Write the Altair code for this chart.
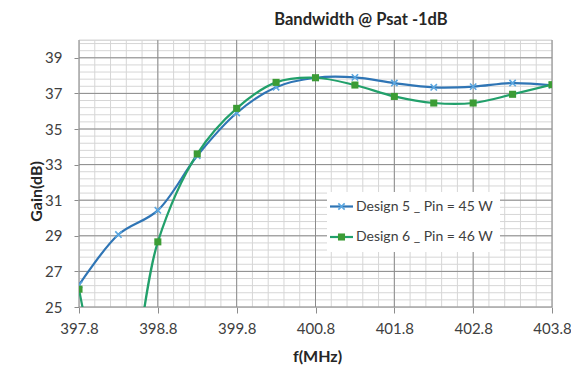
import altair as alt
import pandas as pd
import numpy as np

freq = [397.8, 398.3, 398.8, 399.3, 399.8, 400.3, 400.8, 401.3, 401.8, 402.3, 402.8, 403.3, 403.8]
gain_d5 = [26.24, 29.07, 30.43, 33.5, 35.9, 37.35, 37.88, 37.9, 37.58, 37.34, 37.38, 37.58, 37.45]
gain_d6 = [26.0, 18.0, 28.66, 33.6, 36.16, 37.62, 37.88, 37.47, 36.83, 36.46, 36.46, 36.95, 37.49]
x_ticks = [397.8, 398.8, 399.8, 400.8, 401.8, 402.8, 403.8]
y_ticks = [25, 27, 29, 31, 33, 35, 37, 39]
names = ["Design 5 _ Pin = 45 W", "Design 6 _ Pin = 46 W"]
chart_title = "Bandwidth @ Psat -1dB"

FONT = "Lato"
W, H = 473, 267
XD = [397.8, 403.8]
YD = [25, 40]

d5 = pd.DataFrame({"f": freq, "g": gain_d5})
d6 = pd.DataFrame({"f": freq, "g": gain_d6})

minor_x = pd.DataFrame({"v": np.round(np.arange(397.8, 403.81, 0.2), 2)})
minor_y = pd.DataFrame({"v": np.round(np.arange(25, 40.01, 0.4), 2).tolist() + [40]})
major_x = pd.DataFrame({"v": x_ticks})
major_y = pd.DataFrame({"v": y_ticks})

xs = alt.Scale(domain=XD, nice=False, zero=False)
ys = alt.Scale(domain=YD, nice=False, zero=False)

xaxis = alt.Axis(values=x_ticks, format=".1f", title="f(MHz)",
                 titleX=238, titleY=49, titleAlign="center", titleBaseline="middle",
                 tickSize=6, labelPadding=8)
yaxis = alt.Axis(values=y_ticks, format="d", title="Gain(dB)",
                 titleX=-43, titleY=151, titleAlign="center", titleBaseline="middle",
                 titleAngle=270, tickSize=5, labelPadding=12)

def X(field):
    return alt.X(field, scale=xs, axis=xaxis)

def Y(field):
    return alt.Y(field, scale=ys, axis=yaxis)

gx_major = alt.Chart(major_x).mark_rule(color="#8c8c8c", strokeWidth=1).encode(x=X("v:Q"))
gy_major = alt.Chart(major_y).mark_rule(color="#8c8c8c", strokeWidth=1).encode(y=Y("v:Q"))
gx_minor = alt.Chart(minor_x).mark_rule(color="#d6d6d6", strokeWidth=1).encode(x=X("v:Q"))
gy_minor = alt.Chart(minor_y).mark_rule(color="#d6d6d6", strokeWidth=1).encode(y=Y("v:Q"))

BLUE_LINE = "#2f75b5"
BLUE_MK = "#5ba7e0"
GREEN_LINE = "#22a06b"
GREEN_MK = "#3c9c35"
XPATH = "M-1,-1L1,1M1,-1L-1,1"

def line(df, color):
    return alt.Chart(df).mark_line(interpolate="catmull-rom", clip=True, color=color,
                                   strokeWidth=2.2).encode(x=X("f:Q"), y=Y("g:Q"))

l5 = line(d5, BLUE_LINE)
l6 = line(d6, GREEN_LINE)
p5 = alt.Chart(d5).mark_point(shape=XPATH, filled=False, stroke=BLUE_MK, strokeWidth=1.6,
                              size=40, clip=True, opacity=1).encode(x=X("f:Q"), y=Y("g:Q"))
p6 = alt.Chart(d6).mark_point(shape="square", filled=True, color=GREEN_MK, size=50,
                              clip=True, opacity=1).encode(x=X("f:Q"), y=Y("g:Q"))

# title as text
title_mark = alt.Chart(pd.DataFrame({"t": [chart_title]})).mark_text(
    align="center", baseline="middle", font=FONT, fontSize=16.5, fontWeight="bold",
    color="#262626").encode(x=alt.value(282), y=alt.value(-20.5), text="t:N")

# legend box
LX0, LX1, LY0, LY1 = 248, 421, 152, 212
leg_bg = alt.Chart(pd.DataFrame({"a": [0]})).mark_rect(color="white").encode(
    x=alt.value(LX0), x2=alt.value(LX1), y=alt.value(LY0), y2=alt.value(LY1))
rows = [(names[0], 166.5, BLUE_LINE, "x"), (names[1], 197, GREEN_LINE, "sq")]
leg_layers = [leg_bg]
for name, yy, col, mk in rows:
    leg_layers.append(alt.Chart(pd.DataFrame({"a": [0]})).mark_rule(color=col, strokeWidth=2.2).encode(
        x=alt.value(251), x2=alt.value(274), y=alt.value(yy)))
    if mk == "x":
        leg_layers.append(alt.Chart(pd.DataFrame({"a": [0]})).mark_point(
            shape=XPATH, filled=False, stroke=BLUE_MK, strokeWidth=1.6, size=40, opacity=1).encode(
            x=alt.value(262.5), y=alt.value(yy)))
    else:
        leg_layers.append(alt.Chart(pd.DataFrame({"a": [0]})).mark_point(
            shape="square", filled=True, color=GREEN_MK, size=50, opacity=1).encode(
            x=alt.value(262.5), y=alt.value(yy)))
    leg_layers.append(alt.Chart(pd.DataFrame({"t": [name]})).mark_text(
        align="left", baseline="middle", font=FONT, fontSize=14, color="#404040").encode(
        x=alt.value(277), y=alt.value(yy), text="t:N"))

chart = alt.layer(gx_minor, gy_minor, gx_major, gy_major, l5, l6, p5, p6, title_mark,
                  *leg_layers).properties(
    width=W, height=H,
    autosize=alt.AutoSizeParams(type="none"),
    padding={"left": 71, "top": 32, "right": 19, "bottom": 60},
).configure_view(stroke=None).configure(background="white").configure_axis(
    grid=False, domain=False, labelOverlap=False, labelBound=False, labelFlush=False,
    tickColor="#8c8c8c", labelFont=FONT, labelFontSize=15, labelColor="#404040",
    titleFont=FONT, titleFontSize=16, titleFontWeight="bold", titleColor="#262626")

chart.save("out.html", embed_options={"renderer": "svg", "actions": False})
